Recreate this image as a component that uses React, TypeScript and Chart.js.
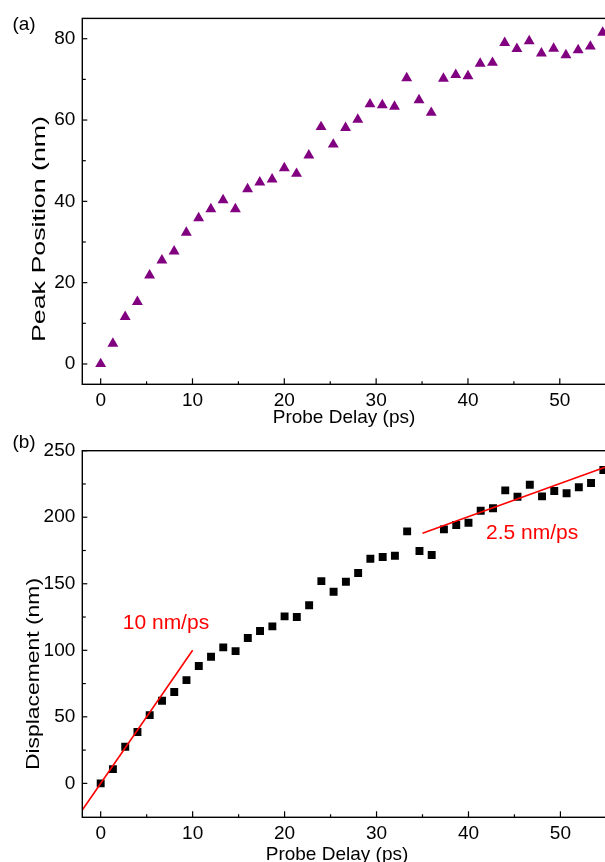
import React, { useEffect, useRef } from 'react';
import { Chart, registerables } from 'chart.js';

Chart.register(...registerables);

// ---- data ----
const delays = [0, 1.33, 2.67, 4, 5.33, 6.67, 8, 9.33, 10.67, 12, 13.33, 14.67, 16, 17.33, 18.67, 20, 21.33, 22.67, 24, 25.33, 26.67, 28, 29.33, 30.67, 32, 33.33, 34.67, 36, 37.33, 38.67, 40, 41.33, 42.67, 44, 45.33, 46.67, 48, 49.33, 50.67, 52, 53.33, 54.67];
const peakPosition = [0, 5.0, 11.6, 15.3, 21.8, 25.5, 27.7, 32.3, 35.9, 38.1, 40.3, 38.1, 43.0, 44.7, 45.4, 48.2, 46.8, 51.3, 58.3, 54.0, 58.1, 60.1, 63.9, 63.7, 63.3, 70.3, 64.9, 61.8, 70.2, 71.1, 70.8, 73.9, 74.1, 79.0, 77.5, 79.4, 76.4, 77.6, 76.0, 77.2, 78.1, 81.5];
const displacement = [0, 10.7, 27.5, 38.6, 51.3, 62.1, 68.6, 77.6, 88.2, 95.2, 102.2, 99.4, 109.2, 114.5, 118.0, 125.5, 125.0, 133.8, 152.0, 144.0, 151.5, 158.1, 168.8, 170.1, 171.1, 189.4, 174.6, 171.6, 190.9, 194.1, 195.9, 204.9, 206.7, 220.2, 215.4, 224.4, 215.7, 219.7, 218.0, 222.5, 225.7, 235.5];
const fastFit = [{ x: -2, y: -20 }, { x: 10, y: 100 }];
const slowFit = [{ x: 35, y: 188 }, { x: 55, y: 238 }];

const xTicks = [0, 10, 20, 30, 40, 50];
const xMinorTicks = [5, 15, 25, 35, 45, 55];
const peakTicks = [0, 20, 40, 60, 80];
const peakMinorTicks = [10, 30, 50, 70];
const dispTicks = [0, 50, 100, 150, 200, 250];
const dispMinorTicks = [25, 75, 125, 175, 225];

const FONT = '"Liberation Sans", Arial, Helvetica, sans-serif';
const CANVAS_W = 612;

const decorPlugin = {
  id: 'decor',
  afterDatasetsDraw(chart: any, _args: any, opts: any) {
    const ctx = chart.ctx;
    const ca = chart.chartArea;
    const xs = chart.scales.x;
    const ys = chart.scales.y;
    ctx.save();
    ctx.strokeStyle = '#000';
    ctx.lineWidth = 1.4;
    ctx.strokeRect(ca.left, ca.top, ca.right - ca.left, ca.bottom - ca.top);
    ctx.lineWidth = 1.2;
    const tick = (x1: number, y1: number, x2: number, y2: number) => {
      ctx.beginPath();
      ctx.moveTo(x1, y1);
      ctx.lineTo(x2, y2);
      ctx.stroke();
    };
    (opts.xMajor || []).forEach((v: number) => {
      const p = xs.getPixelForValue(v);
      tick(p, ca.bottom, p, ca.bottom - 6);
    });
    (opts.xMinor || []).forEach((v: number) => {
      const p = xs.getPixelForValue(v);
      tick(p, ca.bottom, p, ca.bottom - 3);
    });
    (opts.yMajor || []).forEach((v: number) => {
      const p = ys.getPixelForValue(v);
      tick(ca.left, p, ca.left + 5, p);
    });
    (opts.yMinor || []).forEach((v: number) => {
      const p = ys.getPixelForValue(v);
      tick(ca.left, p, ca.left + 3.5, p);
    });
    ctx.fillStyle = '#000';
    ctx.textAlign = 'center';
    ctx.textBaseline = 'middle';
    ctx.font = `19px ${FONT}`;
    ctx.fillText(opts.xTitle, opts.xTitlePos[0], opts.xTitlePos[1]);
    ctx.save();
    ctx.translate(opts.yTitlePos[0], opts.yTitlePos[1]);
    ctx.rotate(-Math.PI / 2);
    ctx.font = `18.5px ${FONT}`;
    const w = ctx.measureText(opts.yTitle).width;
    ctx.scale(opts.yTitleLen / w, 1);
    ctx.fillText(opts.yTitle, 0, 0);
    ctx.restore();
    ctx.font = `19px ${FONT}`;
    ctx.fillText(opts.panel, opts.panelPos[0], opts.panelPos[1]);
    (opts.notes || []).forEach((n: any) => {
      ctx.fillStyle = '#ff0000';
      ctx.textAlign = 'left';
      ctx.font = `21px ${FONT}`;
      ctx.fillText(n.text, xs.getPixelForValue(n.x), ys.getPixelForValue(n.y));
    });
    ctx.restore();
  },
};

function makeScales(yMin: number, yMax: number, yTickVals: number[], yWidth: number, xHeight: number) {
  const tickFont = { family: FONT, size: 19 };
  return {
    x: {
      type: 'linear',
      min: -2,
      max: 55,
      grid: { display: false, drawTicks: false, tickLength: 0 },
      border: { display: false },
      ticks: { padding: 5, font: tickFont, color: '#000', maxRotation: 0 },
      afterBuildTicks: (s: any) => {
        s.ticks = xTicks.map((v) => ({ value: v }));
      },
      afterFit: (s: any) => {
        s.height = xHeight;
      },
    },
    y: {
      type: 'linear',
      min: yMin,
      max: yMax,
      grid: { display: false, drawTicks: false, tickLength: 0 },
      border: { display: false },
      ticks: { padding: 7, font: tickFont, color: '#000' },
      afterBuildTicks: (s: any) => {
        s.ticks = yTickVals.map((v) => ({ value: v }));
      },
      afterFit: (s: any) => {
        s.width = yWidth;
      },
    },
  };
}

export default function App() {
  const topRef = useRef<HTMLCanvasElement | null>(null);
  const botRef = useRef<HTMLCanvasElement | null>(null);

  useEffect(() => {
    const top = new Chart(topRef.current as HTMLCanvasElement, {
      type: 'scatter',
      data: {
        datasets: [
          {
            data: delays.map((x, i) => ({ x, y: peakPosition[i] })),
            pointStyle: 'triangle',
            pointRadius: 6.3,
            pointBorderWidth: 0,
            backgroundColor: '#800080',
            borderColor: '#800080',
          },
        ],
      },
      options: {
        animation: false,
        responsive: false,
        layout: { padding: { left: 0, top: 17.3, right: CANVAS_W - 606.7, bottom: 0 } },
        plugins: {
          legend: { display: false },
          tooltip: { enabled: false },
          decor: {
            xMajor: xTicks,
            xMinor: xMinorTicks,
            yMajor: peakTicks,
            yMinor: peakMinorTicks,
            xTitle: 'Probe Delay (ps)',
            xTitlePos: [344, 418],
            yTitle: 'Peak Position (nm)',
            yTitlePos: [40, 229],
            yTitleLen: 226,
            panel: '(a)',
            panelPos: [24, 25],
          },
        } as any,
        scales: makeScales(-5, 85, peakTicks, 82.3, 430 - 384.3) as any,
      },
      plugins: [decorPlugin],
    });

    const bot = new Chart(botRef.current as HTMLCanvasElement, {
      type: 'scatter',
      data: {
        datasets: [
          {
            type: 'line',
            data: fastFit,
            borderColor: '#ff0000',
            borderWidth: 1.6,
            pointRadius: 0,
            showLine: true,
          } as any,
          {
            type: 'line',
            data: slowFit,
            borderColor: '#ff0000',
            borderWidth: 1.6,
            pointRadius: 0,
            showLine: true,
          } as any,
          {
            data: delays.map((x, i) => ({ x, y: displacement[i] })),
            pointStyle: 'rect',
            pointRadius: 5.6,
            pointBorderWidth: 0,
            backgroundColor: '#000',
            borderColor: '#000',
          },
        ],
      },
      options: {
        animation: false,
        responsive: false,
        layout: { padding: { left: 0, top: 20.7, right: CANVAS_W - 606.7, bottom: 0 } },
        plugins: {
          legend: { display: false },
          tooltip: { enabled: false },
          decor: {
            xMajor: xTicks,
            xMinor: xMinorTicks,
            yMajor: dispTicks,
            yMinor: dispMinorTicks,
            xTitle: 'Probe Delay (ps)',
            xTitlePos: [337, 425],
            yTitle: 'Displacement (nm)',
            yTitlePos: [34, 244],
            yTitleLen: 192,
            panel: '(b)',
            panelPos: [24, 13],
            notes: [
              { text: '10 nm/ps', x: 2.4, y: 120.3 },
              { text: '2.5 nm/ps', x: 41.9, y: 188 },
            ],
          },
        } as any,
        scales: makeScales(-25.5, 250, dispTicks, 82.3, 432 - 387.3) as any,
      },
      plugins: [decorPlugin],
    });

    return () => {
      top.destroy();
      bot.destroy();
    };
  }, []);

  return (
    <div
      style={{
        position: 'fixed',
        left: 0,
        top: 0,
        width: 605,
        height: 862,
        overflow: 'hidden',
        background: '#fff',
      }}
    >
      <canvas ref={topRef} width={CANVAS_W} height={430} style={{ display: 'block', width: CANVAS_W, height: 430 }} />
      <canvas ref={botRef} width={CANVAS_W} height={432} style={{ display: 'block', width: CANVAS_W, height: 432 }} />
    </div>
  );
}
